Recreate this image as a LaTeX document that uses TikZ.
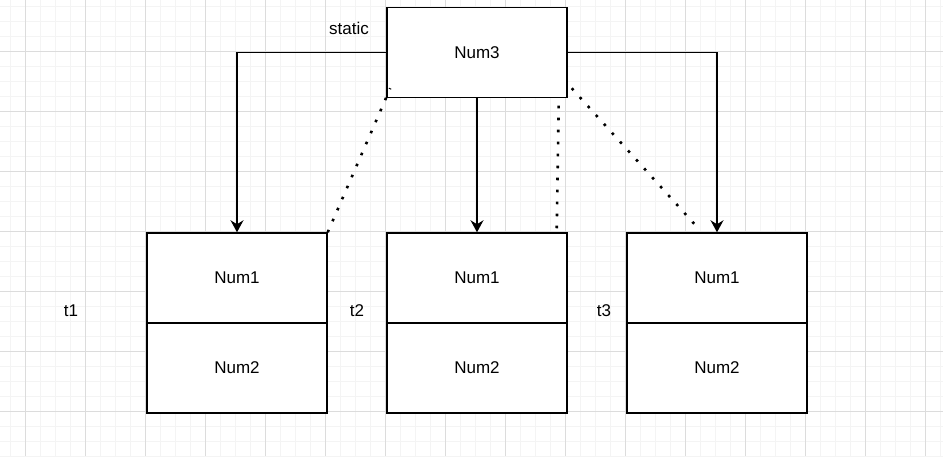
\documentclass[tikz,border=0pt]{standalone}
\usepackage{fontspec}
\setmainfont{Liberation Sans}
\usetikzlibrary{arrows.meta,calc}
\definecolor{gridminor}{HTML}{F4F4F4}
\definecolor{gridmajor}{HTML}{DCDCDC}
\begin{document}
\begin{tikzpicture}[x=1pt,y=-1pt,
  cell/.style={draw=black,line width=1.5pt,fill=white,minimum width=180pt,minimum height=90pt,inner sep=0pt,font=\fontsize{17}{20}\selectfont},
  lbl/.style={inner sep=0pt,font=\fontsize{17}{20}\selectfont},
  conn/.style={line width=1.4pt,-{Stealth[length=12pt,width=13pt,inset=4pt]}},
  dotline/.style={line width=2.6pt,dash pattern=on 2.6pt off 9.4pt}]
\useasboundingbox (0,0) rectangle (943,456);
\fill[white] (0,0) rectangle (943,456);
% grid
\foreach \x in {10,25,...,940} \draw[gridminor,line width=1pt] (\x,0) -- (\x,456);
\foreach \y in {6,21,...,456} \draw[gridminor,line width=1pt] (0,\y) -- (943,\y);
\foreach \x in {25,85,...,940} \draw[gridmajor,line width=1pt] (\x,0) -- (\x,456);
\foreach \y in {51,111,...,456} \draw[gridmajor,line width=1pt] (0,\y) -- (943,\y);
% nodes
\node[cell] (n3) at (477,52.5) {Num3};
\node[cell] (b1a) at (237,278) {Num1};
\node[cell] (b1b) at (237,368) {Num2};
\node[cell] (b2a) at (477,278) {Num1};
\node[cell] (b2b) at (477,368) {Num2};
\node[cell] (b3a) at (717,278) {Num1};
\node[cell] (b3b) at (717,368) {Num2};
\node[lbl] (st) at (349,28) {static};
\node[lbl] (t1) at (71,311) {t1};
\node[lbl] (t2) at (357,311) {t2};
\node[lbl] (t3) at (604,311) {t3};
% arrows
\draw[conn] (n3.west) -| (b1a.north);
\draw[conn] (n3.south) -- (b2a.north);
\draw[conn] (n3.east) -| (b3a.north);
% dotted lines
\draw[dotline] (b1a.north east) -- ($(n3.south west)+(4,-10)$);
\draw[dotline] ($(b2a.north east)+(-11,-4)$) -- ($(n3.south east)+(-9,2)$);
\draw[dotline] ($(n3.south east)+(4,-10)$) -- ($(b3a.north)+(-17,-2)$);
\end{tikzpicture}
\end{document}
